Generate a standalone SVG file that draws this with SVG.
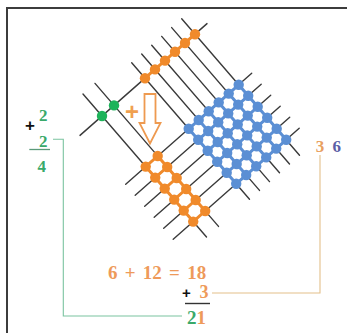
<svg xmlns="http://www.w3.org/2000/svg" width="347" height="333" viewBox="0 0 347 333">
<style>
.frame{stroke:#3c3c3c;stroke-width:2;fill:none}
.ln{stroke:#3a3a3a;stroke-width:1.4;stroke-linecap:round}
.bd{fill:#5b8fd4}
.od{fill:#f08a2b}
.gd{fill:#1db35a}
.bs{stroke:#5b8fd4;stroke-width:3;fill:none}
.os{stroke:#f08a2b;stroke-width:3;fill:none}
.t{font-family:"Liberation Serif","Times New Roman",serif;font-weight:bold}
.s{font-family:"Liberation Sans",Arial,sans-serif;font-weight:bold}
.gt{fill:#3aa96a}
.ot{fill:#ee9a5a}
.conn{fill:none;stroke-width:1.1}
</style>
<defs>
<g id="blueRow">
<circle class="bd" cx="188.7" cy="128.8" r="5.2"/>
<circle class="bd" cx="198.7" cy="120" r="5.2"/>
<circle class="bd" cx="208.7" cy="111.2" r="5.2"/>
<circle class="bd" cx="218.7" cy="102.4" r="5.2"/>
<circle class="bd" cx="228.7" cy="93.6" r="5.2"/>
<circle class="bd" cx="238.7" cy="84.8" r="5.2"/>
</g>
<g id="orRow">
<circle class="od" cx="145.7" cy="166.6" r="5.2"/>
<circle class="od" cx="157.7" cy="156" r="5.2"/>
</g>
</defs>
<rect width="347" height="333" fill="#ffffff"/>
<path class="frame" d="M7,333 V8 H347"/>
<g id="lattice-lines">
<line class="ln" x1="83" y1="94" x2="206.5" y2="237"/>
<line class="ln" x1="95" y1="83.4" x2="218.5" y2="226.4"/>
<line class="ln" x1="131.7" y1="62.8" x2="249.5" y2="199.2"/>
<line class="ln" x1="141.7" y1="54" x2="259.5" y2="190.4"/>
<line class="ln" x1="151.7" y1="45.2" x2="269.5" y2="181.6"/>
<line class="ln" x1="161.7" y1="36.4" x2="279.5" y2="172.8"/>
<line class="ln" x1="171.7" y1="27.6" x2="289.5" y2="164"/>
<line class="ln" x1="181.7" y1="18.8" x2="299.5" y2="155.2"/>
<line class="ln" x1="80" y1="135.4" x2="207" y2="23.6"/>
<line class="ln" x1="125.7" y1="184.2" x2="251.7" y2="73.3"/>
<line class="ln" x1="135.2" y1="195.2" x2="261.2" y2="84.3"/>
<line class="ln" x1="144.7" y1="206.2" x2="270.7" y2="95.3"/>
<line class="ln" x1="154.2" y1="217.2" x2="280.2" y2="106.3"/>
<line class="ln" x1="163.7" y1="228.2" x2="289.7" y2="117.3"/>
<line class="ln" x1="173.2" y1="239.2" x2="299.2" y2="128.3"/>
</g>
<g id="green-dots">
<circle class="gd" cx="102" cy="116" r="5.2"/>
<circle class="gd" cx="114" cy="105.4" r="5.2"/>
</g>
<g id="orange-top-dots">
<path class="os" d="M145,78.2 L195,34.2"/>
<circle class="od" cx="145" cy="78.2" r="5.2"/>
<circle class="od" cx="155" cy="69.4" r="5.2"/>
<circle class="od" cx="165" cy="60.6" r="5.2"/>
<circle class="od" cx="175" cy="51.8" r="5.2"/>
<circle class="od" cx="185" cy="43" r="5.2"/>
<circle class="od" cx="195" cy="34.2" r="5.2"/>
</g>
<g id="orange-bottom-dots">
<path class="os" d="M145.7,166.6 l47.5,55 M157.7,156 l47.5,55 M145.7,166.6 l12,-10.6 M155.2,177.6 l12,-10.6 M164.7,188.6 l12,-10.6 M174.2,199.6 l12,-10.6 M183.7,210.6 l12,-10.6 M193.2,221.6 l12,-10.6"/>
<use href="#orRow"/>
<use href="#orRow" transform="translate(9.5,11)"/>
<use href="#orRow" transform="translate(19,22)"/>
<use href="#orRow" transform="translate(28.5,33)"/>
<use href="#orRow" transform="translate(38,44)"/>
<use href="#orRow" transform="translate(47.5,55)"/>
</g>
<g id="blue-dots">
<path class="bs" d="M188.7,128.8 l47.5,55 M198.7,120 l47.5,55 M208.7,111.2 l47.5,55 M218.7,102.4 l47.5,55 M228.7,93.6 l47.5,55 M238.7,84.8 l47.5,55 M188.7,128.8 l50,-44 M198.2,139.8 l50,-44 M207.7,150.8 l50,-44 M217.2,161.8 l50,-44 M226.7,172.8 l50,-44 M236.2,183.8 l50,-44"/>
<use href="#blueRow"/>
<use href="#blueRow" transform="translate(9.5,11)"/>
<use href="#blueRow" transform="translate(19,22)"/>
<use href="#blueRow" transform="translate(28.5,33)"/>
<use href="#blueRow" transform="translate(38,44)"/>
<use href="#blueRow" transform="translate(47.5,55)"/>
</g>
<g id="arrow">
<path d="M144.5,94 H155.5 V123 H160.5 L150,143.5 L139.5,123 H144.5 Z" fill="#ffffff" stroke="#ee9a50" stroke-width="1.8" stroke-linejoin="miter"/>
<text class="s" x="132" y="120" font-size="24" text-anchor="middle" fill="#f0a050">+</text>
</g>
<g id="connectors">
<path class="conn" d="M53,139.3 H63.3 V316 H182" stroke="#7bc4a0"/>
<path class="conn" d="M320,155 V293 H212" stroke="#e3c08a"/>
</g>
<g id="left-sum">
<text class="s" x="30" y="131" font-size="17" text-anchor="middle" fill="#111">+</text>
<text class="t gt" x="43.3" y="120.7" font-size="17" text-anchor="middle">2</text>
<text class="t gt" x="43.3" y="146.7" font-size="17" text-anchor="middle">2</text>
<line x1="29.3" y1="149.5" x2="50" y2="149.5" stroke="#5a9a7a" stroke-width="1.3"/>
<text class="t gt" x="41.7" y="171.7" font-size="17" text-anchor="middle">4</text>
</g>
<g id="right-units">
<text class="t" x="320" y="151.7" font-size="17" text-anchor="middle" fill="#e8a060">3</text>
<text class="t" x="336.7" y="151.7" font-size="17" text-anchor="middle" fill="#5b5ea6">6</text>
</g>
<g id="tens-sum">
<text class="t ot" x="108" y="279.3" font-size="19" word-spacing="2.5">6 + 12 = 18</text>
<text class="s" x="186.5" y="297.5" font-size="15" text-anchor="middle" fill="#111">+</text>
<text class="t ot" x="204" y="298" font-size="18" text-anchor="middle">3</text>
<line x1="185" y1="303.5" x2="210" y2="303.5" stroke="#333" stroke-width="1.4"/>
<text class="t" x="196.5" y="324" font-size="19" text-anchor="middle"><tspan class="gt">2</tspan><tspan class="ot">1</tspan></text>
</g>
</svg>
